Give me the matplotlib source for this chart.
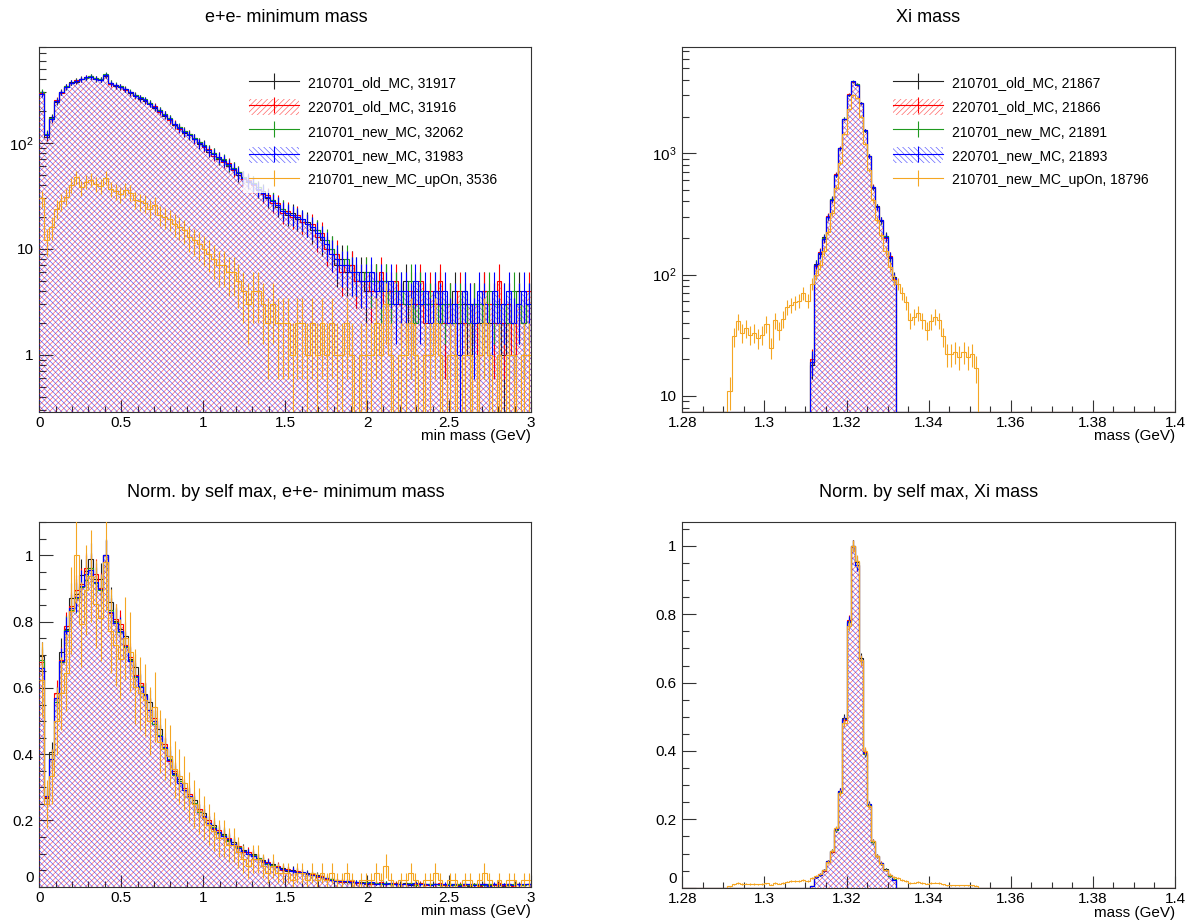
import numpy as np
import matplotlib
matplotlib.use('Agg')
import matplotlib.pyplot as plt
import matplotlib.transforms as mtransforms
from matplotlib.patches import Patch
from matplotlib.lines import Line2D
from matplotlib.ticker import FixedLocator, FixedFormatter, MultipleLocator, FuncFormatter, NullFormatter, LogLocator

plt.rcParams['font.family'] = ['Liberation Sans', 'DejaVu Sans']
plt.rcParams['mathtext.fontset'] = 'custom'
plt.rcParams['mathtext.rm'] = 'Liberation Sans'
plt.rcParams['hatch.linewidth'] = 0.5

# ---------------- data: e+e- minimum mass, 0-3 GeV, 100 bins (counts per 0.01 GeV) -------------
ee_range = (0.0, 3.0)
ee_nbins = 100
ee_old_210701 = [300, 115, 175, 245, 305, 335, 375, 380, 405, 410,
                 425, 400, 400, 430, 370, 345, 335, 325, 295, 285,
                 260, 250, 240, 215, 205, 180, 170, 148, 140, 125,
                 118, 112, 98, 96, 83, 80, 71, 69, 61, 58,
                 50, 48, 43, 42, 36, 35, 30, 29, 25, 24,
                 21, 22, 19, 18, 18, 15, 15, 12, 10, 10,
                 7, 8, 6, 7, 5, 6, 4, 5, 5, 4,
                 5, 4, 4, 3, 5, 2, 4, 4, 3, 3,
                 3, 4, 2, 3, 4, 2, 3, 1, 3, 2,
                 4, 2, 3, 3, 1, 3, 2, 4, 2, 3]
ee_old_220701 = [295, 118, 168, 255, 298, 342, 368, 390, 398, 418,
                 418, 410, 392, 435, 360, 352, 345, 318, 302, 278,
                 268, 252, 232, 222, 198, 188, 165, 152, 136, 130,
                 122, 108, 102, 92, 87, 76, 74, 66, 64, 55,
                 53, 46, 45, 40, 38, 33, 32, 27, 27, 22,
                 23, 20, 21, 18, 17, 17, 13, 14, 10, 9,
                 9, 6, 7, 7, 5, 5, 6, 4, 5, 6,
                 3, 4, 5, 3, 3, 4, 3, 5, 2, 4,
                 3, 5, 2, 3, 2, 4, 2, 3, 3, 1,
                 4, 3, 2, 5, 2, 3, 1, 3, 2, 4]
ee_new_210701 = [305, 122, 172, 248, 302, 345, 372, 388, 402, 412,
                 428, 408, 398, 445, 372, 355, 342, 322, 305, 282,
                 270, 258, 238, 218, 204, 186, 172, 150, 142, 130,
                 121, 112, 101, 95, 86, 80, 72, 70, 62, 58,
                 53, 48, 44, 42, 38, 34, 31, 29, 26, 24,
                 22, 21, 20, 19, 17, 16, 15, 13, 12, 10,
                 8, 7, 8, 6, 6, 5, 6, 5, 5, 4,
                 5, 3, 4, 4, 3, 5, 2, 4, 3, 3,
                 4, 2, 3, 3, 2, 3, 4, 2, 3, 3,
                 2, 4, 3, 2, 3, 2, 4, 3, 2, 3]
ee_new_220701 = [290, 120, 170, 250, 300, 340, 370, 385, 400, 415,
                 420, 405, 395, 440, 365, 350, 340, 320, 300, 280,
                 265, 255, 235, 220, 200, 185, 168, 150, 138, 128,
                 120, 110, 100, 94, 85, 78, 73, 68, 63, 57,
                 52, 47, 44, 41, 37, 34, 31, 28, 26, 23,
                 22, 21, 20, 19, 17, 16, 14, 13, 11, 9,
                 8, 7, 7, 6, 6, 5, 5, 6, 4, 5,
                 4, 5, 3, 4, 4, 3, 5, 3, 4, 2,
                 4, 3, 4, 2, 3, 1, 4, 3, 2, 4,
                 3, 1, 4, 2, 3, 4, 2, 3, 4, 3]
ee_new_upOn = [30, 12, 16, 24, 28, 31, 40, 48, 38, 43,
               45, 41, 39, 47, 37, 35, 33, 36, 34, 29,
               28, 27, 24, 26, 21, 20, 19, 17, 16, 15,
               13, 12, 11, 10, 9, 8, 7, 7, 6, 6,
               5, 4, 3, 4, 4, 3, 2, 3, 2, 2,
               2, 1, 2, 2, 1, 2, 1, 2, 1, 2,
               1, 1, 2, 1, 0, 1, 1, 1, 2, 1,
               3, 1, 0, 1, 1, 2, 1, 0, 1, 1,
               2, 1, 0, 1, 1, 0, 1, 1, 0, 1,
               2, 1, 0, 1, 0, 1, 1, 0, 1, 1]

# ---------------- data: Xi mass, 1.28-1.40 GeV, 0.001 GeV bins -------------
xi_range = (1.28, 1.40)
xi_nbins = 120
xi_main_first = 1.311   # first filled bin of the four MC samples
xi_old_210701 = [18, 121, 148, 202, 296, 420, 660, 1095, 1930, 3020, 3880,
                 3700, 2610, 1530, 955, 520, 365, 276, 208, 138, 95]
xi_old_220701 = [20, 117, 152, 195, 302, 412, 670, 1105, 1910, 3050, 3890,
                 3670, 2590, 1550, 945, 530, 358, 282, 200, 142, 92]
xi_new_210701 = [19, 120, 149, 199, 300, 418, 663, 1098, 1925, 3035, 3910,
                 3690, 2605, 1535, 948, 525, 363, 279, 206, 139, 94]
xi_new_220701 = [19, 119, 150, 198, 299, 415, 665, 1100, 1920, 3040, 3900,
                 3680, 2600, 1540, 950, 528, 361, 280, 204, 140, 93]
xi_upOn_first = 1.291
xi_new_upOn = [11, 31, 41, 33, 36, 32, 33, 30, 32, 39, 25, 42, 35, 43, 54, 56, 59, 61, 70, 61,
               84, 100, 120, 155, 225, 320, 520, 830, 1450, 2300, 3000, 2870, 2000, 1200, 720,
               410, 280, 210, 155, 115, 90,
               84, 70, 59, 42, 45, 48, 42, 35, 41, 45, 42, 31, 22, 22, 23, 21, 23, 21, 22, 17]

labels = ['210701_old_MC', '220701_old_MC', '210701_new_MC', '220701_new_MC', '210701_new_MC_upOn']
ee_entries = [31917, 31916, 32062, 31983, 3536]
xi_entries = [21867, 21866, 21891, 21893, 18796]

colors = ['#222222', '#ff0000', '#1f9a1f', '#0000ff', '#f5a623']
hatches = [None, '//////', None, '\\\\\\\\\\\\', None]
hatch_cols = [None, (1, 0, 0, 0.6), None, (0, 0, 1, 0.6), None]


def place(nbins, lo, first, vals):
    arr = np.zeros(nbins)
    start = int(round((first - lo) / ((xi_range[1] - xi_range[0]) / nbins)))
    arr[start:start + len(vals)] = vals
    return arr


def draw_hist(ax, edges, vals, i, floor, norm=False):
    vals = np.asarray(vals, float)
    err = np.sqrt(vals)
    if norm:
        m = vals.max()
        vals, err = vals / m, err / m
    shown = np.where(vals > 0, vals, floor)
    z = 2 + i
    if hatches[i]:
        ax.fill_between(edges, np.append(shown, shown[-1]), floor, step='post',
                        facecolor='none', edgecolor=hatch_cols[i], hatch=hatches[i],
                        linewidth=0, zorder=z)
    ax.stairs(shown, edges, color=colors[i], lw=0.8, baseline=None, zorder=z + 0.5)
    centers = 0.5 * (edges[:-1] + edges[1:])
    ok = vals > 0
    ax.vlines(centers[ok], np.maximum(vals[ok] - err[ok], floor), vals[ok] + err[ok],
              color=colors[i], lw=0.8, zorder=z + 0.5)


def style_axes(ax, xlim, xmajor, xminor, xlabel):
    ax.set_xlim(*xlim)
    ax.xaxis.set_major_locator(MultipleLocator(xmajor))
    ax.xaxis.set_minor_locator(MultipleLocator(xminor))
    ax.xaxis.set_major_formatter(FuncFormatter(lambda v, p: f'{round(v, 4):g}'))
    ax.tick_params(which='both', direction='in', top=False, right=False,
                   labelsize=11, color='#333333')
    ax.tick_params(axis='y', which='major', length=10, width=0.8, pad=4)
    ax.tick_params(axis='y', which='minor', length=5, width=0.8)
    ax.tick_params(axis='x', which='major', length=9, width=0.8, pad=3)
    ax.tick_params(axis='x', which='minor', length=4.5, width=0.8)
    for s in ax.spines.values():
        s.set_linewidth(0.8)
        s.set_color('#333333')
    ax.text(1.0, -0.068, xlabel, transform=ax.transAxes, ha='right', va='center', fontsize=11)


def add_legend(ax, x0, y0, entries):
    handles = []
    for i in range(5):
        ln = Line2D([0], [0], color=colors[i], lw=0.8, marker='|', markersize=12,
                    markeredgewidth=0.8)
        if hatches[i]:
            handles.append((Patch(facecolor='none', edgecolor=hatch_cols[i],
                                  hatch=hatches[i], linewidth=0), ln))
        else:
            handles.append(ln)
    texts = [f'{l}, {n}' for l, n in zip(labels, entries)]
    leg = ax.legend(handles, texts, loc='upper left', bbox_to_anchor=(x0 / W, 1 - y0 / H),
                    bbox_transform=fig.transFigure, fontsize=10, frameon=True,
                    framealpha=0.8, edgecolor='none', fancybox=False, borderpad=0.4,
                    borderaxespad=0, handlelength=3.6, handleheight=1.37,
                    labelspacing=0.61, handletextpad=0.65)
    leg.set_zorder(20)


W, H = 1188, 923
fig = plt.figure(figsize=(W / 100, H / 100), dpi=100)

ax_tl = fig.add_axes([39.3 / W, 1 - 411.7 / H, 491.7 / W, 364.4 / H])
ax_tr = fig.add_axes([682.3 / W, 1 - 411.7 / H, 492.7 / W, 364.7 / H])
ax_bl = fig.add_axes([39.3 / W, 1 - 886.7 / H, 491.7 / W, 364.4 / H])
ax_br = fig.add_axes([682.3 / W, 1 - 887.7 / H, 492.7 / W, 365.7 / H])

ee_edges = np.linspace(ee_range[0], ee_range[1], ee_nbins + 1)
xi_edges = np.linspace(xi_range[0], xi_range[1], xi_nbins + 1)
ee_series = [ee_old_210701, ee_old_220701, ee_new_210701, ee_new_220701, ee_new_upOn]
xi_series = [place(xi_nbins, xi_range[0], xi_main_first, s)
             for s in [xi_old_210701, xi_old_220701, xi_new_210701, xi_new_220701]]
xi_series.append(place(xi_nbins, xi_range[0], xi_upOn_first, xi_new_upOn))

# top-left: log scale counts
ee_ylim = (0.29, 800)
ax_tl.set_yscale('log')
for i, s in enumerate(ee_series):
    draw_hist(ax_tl, ee_edges, s, i, ee_ylim[0])
ax_tl.set_ylim(*ee_ylim)
style_axes(ax_tl, ee_range, 0.5, 0.1, 'min mass (GeV)')
ax_tl.yaxis.set_major_locator(FixedLocator([1, 10, 100]))
ax_tl.yaxis.set_major_formatter(FixedFormatter(['1', '10', r'$\mathregular{10^{2}}$']))
ax_tl.yaxis.set_minor_locator(LogLocator(subs=np.arange(2, 10)))
ax_tl.yaxis.set_minor_formatter(NullFormatter())
add_legend(ax_tl, 243, 69, ee_entries)

# top-right: log scale counts
xi_ylim = (7.4, 7500)
ax_tr.set_yscale('log')
for i, s in enumerate(xi_series):
    draw_hist(ax_tr, xi_edges, s, i, xi_ylim[0])
ax_tr.set_ylim(*xi_ylim)
style_axes(ax_tr, xi_range, 0.02, 0.005, 'mass (GeV)')
ax_tr.yaxis.set_major_locator(FixedLocator([10, 100, 1000]))
ax_tr.yaxis.set_major_formatter(FixedFormatter(['10', r'$\mathregular{10^{2}}$',
                                                r'$\mathregular{10^{3}}$']))
ax_tr.yaxis.set_minor_locator(LogLocator(subs=np.arange(2, 10)))
ax_tr.yaxis.set_minor_formatter(NullFormatter())
add_legend(ax_tr, 887, 69, xi_entries)

# bottom: normalised by each histogram's own maximum
for ax, edges, series, xlim, xmaj, xmin, xl, ytop in [
        (ax_bl, ee_edges, ee_series, ee_range, 0.5, 0.1, 'min mass (GeV)', 1.1),
        (ax_br, xi_edges, xi_series, xi_range, 0.02, 0.005, 'mass (GeV)', 1.07)]:
    for i, s in enumerate(series):
        draw_hist(ax, edges, s, i, 0.0, norm=True)
    ax.set_ylim(0, ytop)
    style_axes(ax, xlim, xmaj, xmin, xl)
    ax.yaxis.set_major_locator(MultipleLocator(0.2))
    ax.yaxis.set_minor_locator(MultipleLocator(0.05))
    # the "0" sits a little higher at the frame corner, drawn separately below
    ax.yaxis.set_major_formatter(FuncFormatter(lambda v, p: '' if abs(v) < 1e-9 else f'{round(v, 4):g}'))
    lift = mtransforms.offset_copy(ax.get_yaxis_transform(), fig=fig, x=-4, y=6, units='points')
    ax.text(0, 0, '0', transform=lift, ha='right', va='center', fontsize=11)

fig.text(286 / W, 1 - 17 / H, 'e+e- minimum mass', ha='center', va='center', fontsize=13)
fig.text(928 / W, 1 - 17 / H, 'Xi mass', ha='center', va='center', fontsize=13)
fig.text(286 / W, 1 - 492 / H, 'Norm. by self max, e+e- minimum mass', ha='center', va='center', fontsize=13)
fig.text(929 / W, 1 - 492 / H, 'Norm. by self max, Xi mass', ha='center', va='center', fontsize=13)

fig.savefig('out.png', dpi=100)
